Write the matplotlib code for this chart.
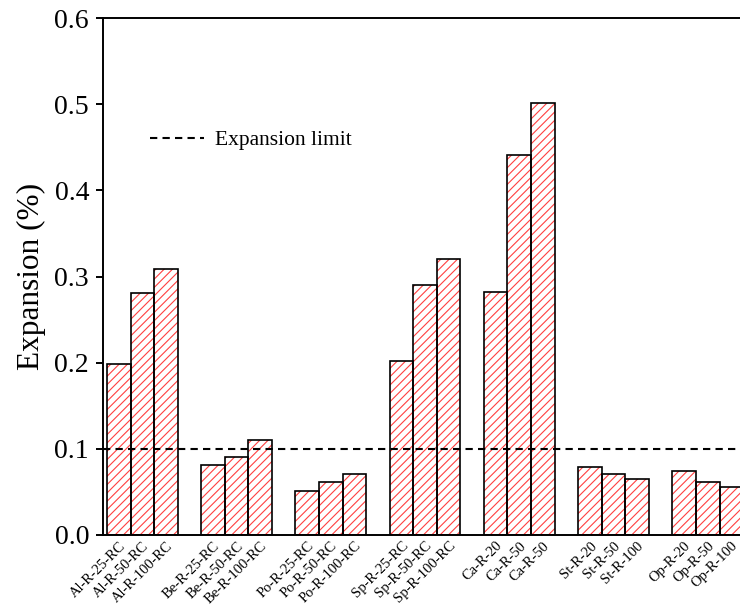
import numpy as np
import matplotlib
matplotlib.use("Agg")
import matplotlib.pyplot as plt

plt.rcParams['font.family'] = ['Liberation Serif', 'DejaVu Serif']
plt.rcParams['hatch.linewidth'] = 0.8

groups = ['Al', 'Be', 'Po', 'Sp', 'Ca', 'St', 'Op']
labels = ['Al-R-25-RC', 'Al-R-50-RC', 'Al-R-100-RC',
          'Be-R-25-RC', 'Be-R-50-RC', 'Be-R-100-RC',
          'Po-R-25-RC', 'Po-R-50-RC', 'Po-R-100-RC',
          'Sp-R-25-RC', 'Sp-R-50-RC', 'Sp-R-100-RC',
          'Ca-R-20', 'Ca-R-50', 'Ca-R-50',
          'St-R-20', 'St-R-50', 'St-R-100',
          'Op-R-20', 'Op-R-50', 'Op-R-100']
expansion = [0.198, 0.281, 0.309,
             0.081, 0.091, 0.110,
             0.051, 0.061, 0.071,
             0.202, 0.290, 0.320,
             0.282, 0.441, 0.501,
             0.079, 0.071, 0.065,
             0.074, 0.062, 0.056]
limit = 0.1

# 3 bars per group, one empty slot between groups
pos = np.array([g * 4 + j for g in range(len(groups)) for j in range(3)])

fig = plt.figure(figsize=(7.4, 6.08), dpi=100)
ax = fig.add_axes([103 / 740, 1 - 535 / 608, 637 / 740, 517 / 608])

# red hatch first, then black outline on top
ax.bar(pos, expansion, width=1.0, color='none', edgecolor='#ff4040', hatch='////', linewidth=0)
ax.bar(pos, expansion, width=1.0, fill=False, edgecolor='black', linewidth=1.2)

ax.axhline(limit, color='black', linewidth=1.5, linestyle=(0, (3.5, 2.5)), label='Expansion limit')

ax.set_xlim(-0.67, 26.37)
ax.set_ylim(0, 0.6)
ax.set_yticks(np.arange(0, 0.61, 0.1))
ax.set_yticklabels(['%.1f' % v for v in np.arange(0, 0.61, 0.1)], fontsize=20)
ax.set_xticks(pos)
ax.set_xticklabels(labels, rotation=45, ha='right', rotation_mode='anchor', fontsize=10.5)
ax.tick_params(axis='x', length=0, pad=3)
ax.tick_params(axis='y', direction='out', length=5, width=1.4, pad=5)
ax.set_ylabel('Expansion (%)', fontsize=22.5, labelpad=6)

for s in ['left', 'bottom', 'top']:
    ax.spines[s].set_linewidth(1.4)
ax.spines['right'].set_visible(False)

ax.legend(loc='center left', bbox_to_anchor=(0.074, 0.764), frameon=False, fontsize=15.5,
          handlelength=2.5, handletextpad=0.5, borderpad=0, borderaxespad=0)

fig.savefig('out.png', dpi=100)
